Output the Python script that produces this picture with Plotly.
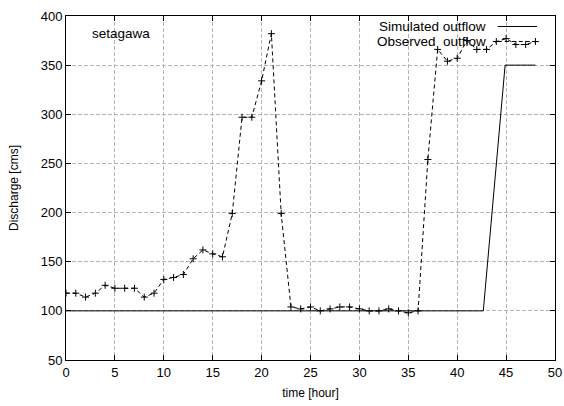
import plotly.graph_objects as go

obs_t = list(range(0, 49))
obs_q = [118, 118, 114, 118, 126, 123, 123, 123, 114, 118,
         132, 134, 137, 153, 162, 158, 155, 199, 297, 297,
         334, 382, 199, 104, 102, 104, 100, 102, 104, 104,
         102, 100, 100, 102, 100, 98, 100, 254, 366, 354,
         357, 375, 366, 366, 374, 377, 371, 371, 374]
sim_t = [0, 42.67, 44.9, 48]
sim_q = [100, 100, 350, 350]

x_ticks = [0, 5, 10, 15, 20, 25, 30, 35, 40, 45, 50]
y_ticks = [50, 100, 150, 200, 250, 300, 350, 400]

FONT = "Liberation Sans, Arial, Helvetica, sans-serif"

fig = go.Figure()
fig.add_trace(go.Scatter(x=sim_t, y=sim_q, mode="lines",
                         line=dict(color="black", width=1),
                         name="Simulated outflow", showlegend=False))
fig.add_trace(go.Scatter(x=obs_t, y=obs_q, mode="lines+markers",
                         line=dict(color="black", width=1, dash="4px,3px"),
                         marker=dict(symbol="cross-thin", size=5,
                                     line=dict(color="black", width=1)),
                         name="Observed  outflow", showlegend=False))

axis_common = dict(showline=True, linecolor="black", linewidth=1, mirror="ticks",
                   ticks="inside", ticklen=5, tickcolor="black", automargin=False,
                   showgrid=True, gridcolor="#b4b4b4", griddash="4px,2px", gridwidth=1,
                   zeroline=False, tickfont=dict(family=FONT, size=13, color="black"))

fig.update_xaxes(range=[0, 50], tickvals=x_ticks,
                 title=dict(text="time [hour]", font=dict(family=FONT, size=12, color="black"), standoff=10),
                 **axis_common)
fig.update_yaxes(range=[50, 400], tickvals=y_ticks,
                 title=dict(text="Discharge [cms]", font=dict(family=FONT, size=12, color="black"), standoff=19),
                 **axis_common)

# key (gnuplot-style: text then sample)
fig.add_annotation(xref="paper", yref="paper", x=0.863, y=0.9695, text="Simulated outflow",
                   showarrow=False, xanchor="right", yanchor="middle",
                   font=dict(family=FONT, size=13.5, color="black"))
fig.add_annotation(xref="paper", yref="paper", x=0.863, y=0.926, text="Observed  outflow",
                   showarrow=False, xanchor="right", yanchor="middle",
                   font=dict(family=FONT, size=13.5, color="black"))
fig.add_shape(type="line", xref="paper", yref="paper", x0=0.883, x1=0.963, y0=0.9695, y1=0.9695,
              line=dict(color="black", width=1))
fig.add_shape(type="line", xref="paper", yref="paper", x0=0.883, x1=0.963, y0=0.926, y1=0.926,
              line=dict(color="black", width=1, dash="4px,3px"))
fig.add_annotation(xref="paper", yref="paper", x=0.05, y=0.95, text="setagawa",
                   showarrow=False, xanchor="left", yanchor="middle",
                   font=dict(family=FONT, size=13.5, color="black"))

fig.update_layout(width=564, height=406, plot_bgcolor="white", paper_bgcolor="white",
                  margin=dict(l=66, r=9, t=16, b=46),
                  font=dict(family=FONT, size=12, color="black"))

fig.write_html("out.html", config={"displayModeBar": False},
               post_script="document.body.style.margin='0';document.body.style.padding='0';")
